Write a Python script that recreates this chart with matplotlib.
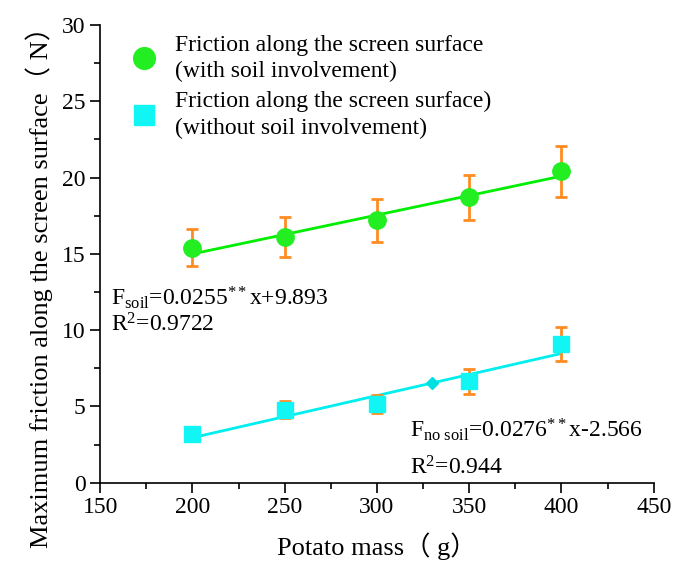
import matplotlib
matplotlib.use("Agg")
import matplotlib.pyplot as plt
import numpy as np

plt.rcParams['font.family'] = ['Liberation Serif', 'Noto Sans CJK SC']
plt.rcParams['mathtext.fontset'] = 'custom'
plt.rcParams['mathtext.rm'] = 'Liberation Serif'
plt.rcParams['mathtext.it'] = 'Liberation Serif:italic'

# data
mass = [200, 250, 300, 350, 400]
soil_force = [15.4, 16.1, 17.2, 18.7, 20.4]
soil_err = [1.2, 1.3, 1.4, 1.45, 1.65]
nosoil_force = [3.2, 4.8, 5.15, 6.65, 9.1]
nosoil_err = [0.45, 0.55, 0.6, 0.8, 1.1]

soil_fit = (0.0255, 9.893)
nosoil_fit = (0.0276, -2.566)
marker_mass = 330  # stray diamond sitting on the no-soil fit line

GREEN = "#22ee22"
CYAN = "#11f5f5"
ORANGE = "#ff8c22"

fig, ax = plt.subplots(figsize=(6.86, 5.66), dpi=100)
fig.subplots_adjust(left=0.146, right=0.953, bottom=0.147, top=0.956)

xs = np.array([mass[0], mass[-1]])

# fitted lines
ax.plot(xs, soil_fit[0] * xs + soil_fit[1], color="#00ee00", lw=2, zorder=2)
ax.plot(xs, nosoil_fit[0] * xs + nosoil_fit[1], color="#00eeee", lw=2, zorder=2)

# error bars
for f, e in ((soil_force, soil_err), (nosoil_force, nosoil_err)):
    ax.errorbar(mass, f, yerr=e, fmt='none', ecolor=ORANGE,
                elinewidth=2, capsize=4.5, capthick=2, zorder=3)

# points
ax.plot(mass, soil_force, 'o', color=GREEN, ms=12.5, zorder=4,
        label="Friction along the screen surface\n(with soil involvement)")
ax.plot(mass, nosoil_force, 's', color=CYAN, ms=11, zorder=4,
        label="Friction along the screen surface)\n(without soil involvement)")
ax.plot([marker_mass], [nosoil_fit[0] * marker_mass + nosoil_fit[1]], 'D',
        color="#00e0e0", ms=6, zorder=4)

# equations
ax.text(156, 11.65, r"F$_{\mathrm{soil}}$=0.0255$^{**}$x+9.893", fontsize=17)
ax.text(156, 9.9, r"R$^{2}$=0.9722", fontsize=17)
ax.text(318, 3.0, r"F$_{\mathrm{no\ soil}}$=0.0276$^{**}$x-2.566", fontsize=17)
ax.text(318, 0.55, r"R$^{2}$=0.944", fontsize=17)

ax.set_xlim(150, 450)
ax.set_ylim(0, 30)
ax.set_xticks(np.arange(150, 451, 50))
ax.set_yticks(np.arange(0, 31, 5))
ax.set_xticks(np.arange(175, 450, 50), minor=True)
ax.set_yticks(np.arange(2.5, 30, 5), minor=True)
ax.tick_params(which='major', direction='out', length=7, width=1.2, labelsize=17)
ax.tick_params(which='minor', direction='out', length=4, width=1.2)

ax.spines['top'].set_visible(False)
ax.spines['right'].set_visible(False)
ax.spines['left'].set_linewidth(1.2)
ax.spines['bottom'].set_linewidth(1.2)

ax.set_xlabel("Potato mass（ g）", fontsize=19, labelpad=10)
ax.set_ylabel("Maximum friction along the screen surface（ N）", fontsize=19)
ax.yaxis.set_label_coords(-0.085, 0.44)

leg = ax.legend(loc='upper left', bbox_to_anchor=(0.015, 1.025), frameon=False,
                fontsize=17, handletextpad=0.7, labelspacing=0.35, handlelength=1.2,
                markerscale=1.25)
for t in leg.get_texts():
    t.set_linespacing(1.35)

plt.savefig("out.png", dpi=100)
